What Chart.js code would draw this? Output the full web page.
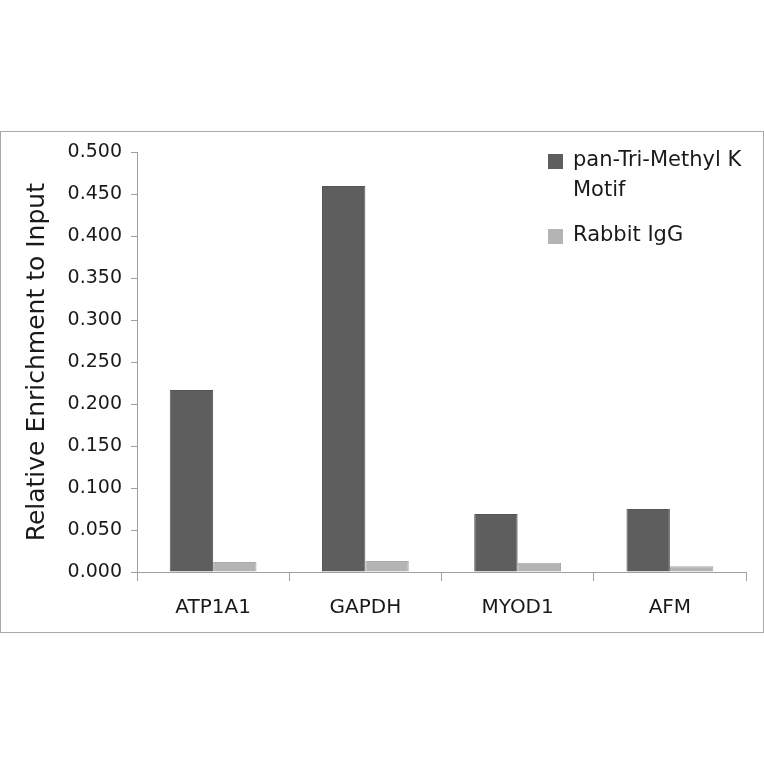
<!DOCTYPE html>
<html>
<head>
<meta charset="utf-8">
<script src="https://cdn.jsdelivr.net/npm/chart.js@4.4.0/dist/chart.umd.min.js"></script>
<style>
  body { margin: 0; background: #fff; }
  #box { position: absolute; left: 0; top: 131px; width: 762px; height: 500px; border: 1px solid #a8a8a8; }
</style>
</head>
<body>
<div id="box"><canvas id="myChart" width="762" height="500"></canvas></div>
<script>
var categories = ["ATP1A1", "GAPDH", "MYOD1", "AFM"]
var trimethyl = [0.217, 0.460, 0.069, 0.075]
var rabbitIgG = [0.012, 0.013, 0.011, 0.007]
var seriesNames = [["pan-Tri-Methyl K", "Motif"], ["Rabbit IgG"]]
var fontFam = "'DejaVu Sans', sans-serif"

// legend drawn by hand so the first label can wrap on two lines
var sideLegend = {
    id: 'sideLegend',
    afterDraw: function(chart){
        var ctx = chart.ctx
        ctx.save()
        ctx.font = "21px " + fontFam
        ctx.textBaseline = "middle"
        var y = 29
        chart.data.datasets.forEach(function(ds, i){
            var lines = seriesNames[i]
            ctx.fillStyle = ds.backgroundColor
            ctx.fillRect(547, y - 7, 15, 15)
            ctx.fillStyle = "#1a1a1a"
            lines.forEach(function(t, j){
                ctx.fillText(t, 572, y + j * 30)
            })
            y += lines.length * 30 + 15
        })
        ctx.restore()
    }
}

var ctx = document.getElementById("myChart").getContext('2d')
var chart = new Chart(ctx, {
    type: 'bar',
    data: {
        labels: categories,
        datasets: [
            { label: "pan-Tri-Methyl K Motif", data: trimethyl, backgroundColor: "#5e5e5e", borderColor: "#555", borderWidth: 1 },
            { label: "Rabbit IgG", data: rabbitIgG, backgroundColor: "#b4b4b4", borderColor: "#aaa", borderWidth: 1 }
        ]
    },
    options: {
        responsive: false,
        animation: false,
        layout: { padding: { top: 20, right: 17, left: 0, bottom: 0 } },
        datasets: { bar: { categoryPercentage: 0.57, barPercentage: 1 } },
        plugins: { legend: { display: false }, tooltip: { enabled: false } },
        scales: {
            x: {
                afterFit: function(s){ s.height = 60 },
                grid: { drawOnChartArea: false, color: "#a0a0a0", tickLength: 9, offset: true },
                border: { color: "#a0a0a0" },
                ticks: { color: "#1a1a1a", font: { size: 20, family: fontFam }, padding: 15 }
            },
            y: {
                min: 0, max: 0.5,
                afterFit: function(s){ s.width = 136 },
                grid: { drawOnChartArea: false, color: "#a0a0a0", tickLength: 6 },
                border: { color: "#a0a0a0" },
                ticks: { stepSize: 0.05, color: "#1a1a1a", font: { size: 19, family: fontFam }, padding: 9,
                    callback: function(v){ return v.toFixed(3) } },
                title: { display: true, text: "Relative Enrichment to Input", color: "#1a1a1a",
                    font: { size: 25, family: fontFam }, padding: { top: 21, bottom: 8 } }
            }
        }
    },
    plugins: [sideLegend]
})
</script>
</body>
</html>
